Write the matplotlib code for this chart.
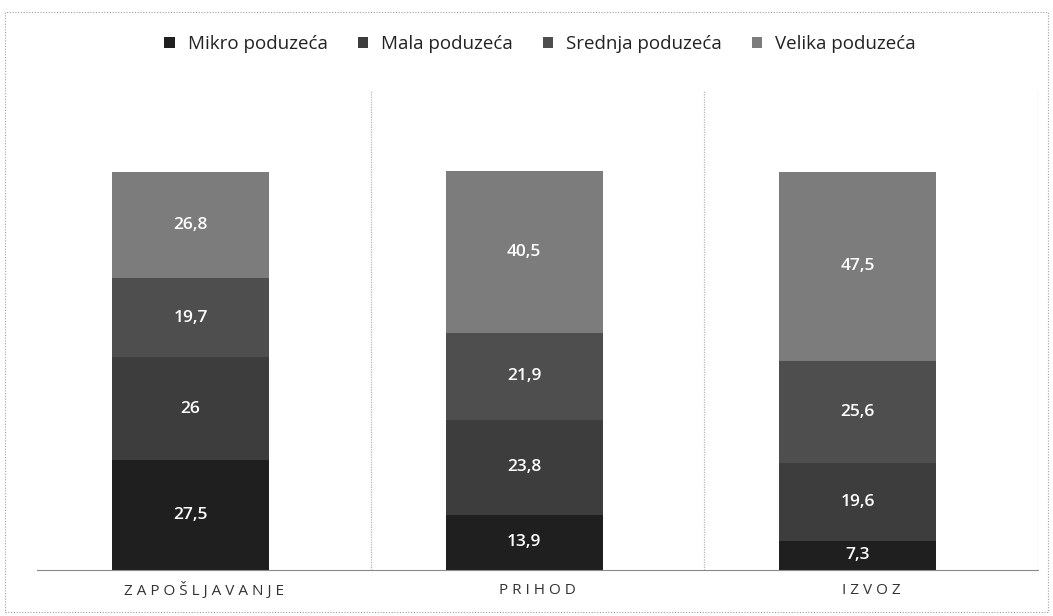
import numpy as np
import matplotlib.pyplot as plt
from matplotlib.patches import Rectangle

# data (percent shares)
kategorije = ['ZAPOŠLJAVANJE', 'PRIHOD', 'IZVOZ']
serije = ['Mikro poduzeća', 'Mala poduzeća', 'Srednja poduzeća', 'Velika poduzeća']
mikro = [27.5, 13.9, 7.3]
mala = [26, 23.8, 19.6]
srednja = [19.7, 21.9, 25.6]
velika = [26.8, 40.5, 47.5]
oznake = [['27,5', '13,9', '7,3'],
          ['26', '23,8', '19,6'],
          ['19,7', '21,9', '25,6'],
          ['26,8', '40,5', '47,5']]

boje = ['#1f1f1f', '#3d3d3d', '#4e4e4e', '#7c7c7c']

plt.rcParams['font.family'] = ['Open Sans', 'DejaVu Sans']

fig = plt.figure(figsize=(10.53, 6.16), dpi=100)
ax = fig.add_axes([37/1053, 46/616, 1001/1053, 480/616])

x = np.arange(len(kategorije))
dno = np.zeros(len(kategorije))
for vrijednosti, ime, boja, lab in zip([mikro, mala, srednja, velika], serije, boje, oznake):
    bars = ax.bar(x - 0.04, vrijednosti, 0.47, bottom=dno, color=boja, label=ime, zorder=2)
    ax.bar_label(bars, labels=lab, label_type='center', color='white',
                 fontsize=12.5, fontweight='semibold')
    dno = dno + np.array(vrijednosti)

ax.set_xlim(-0.5, 2.5)
ax.set_ylim(0, 120.5)
ax.set_yticks([])
ax.set_xticks(x)
ax.set_xticklabels([' '.join(k) for k in kategorije], fontsize=11, color='#333333')
ax.tick_params(axis='x', length=0, pad=9)
for xv in [0.5, 1.5, 2.5]:
    ax.axvline(xv, color='#b5b5b5', lw=0.9, ls=(0, (1, 1)), zorder=1)
for s in ['top', 'left', 'right']:
    ax.spines[s].set_visible(False)
ax.spines['bottom'].set_color('#8a8a8a')
ax.spines['bottom'].set_linestyle((0, (1, 1)))

leg = fig.legend(loc='center', bbox_to_anchor=(0.513, 1 - 44/616), ncol=4, frameon=False,
                 fontsize=13.5, handlelength=0.55, handleheight=0.55, handletextpad=0.7,
                 columnspacing=1.6, labelcolor='#222222')

fig.patches.append(Rectangle((5/1053, 4/616), 1043/1053, 600/616, transform=fig.transFigure,
                             fill=False, edgecolor='#a0a0a0', lw=0.8, ls=(0, (1, 1.5))))

fig.savefig('out.png', dpi=100)
